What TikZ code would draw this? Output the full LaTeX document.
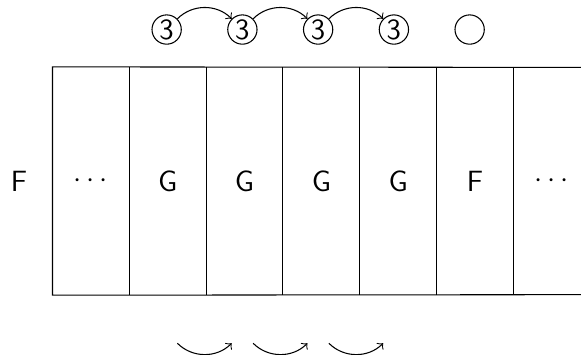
\documentclass[tikz,border=0pt]{standalone}
\usetikzlibrary{positioning}

\begin{document}
\begin{tikzpicture}[font=\sffamily\fontsize{11}{13}\selectfont, >=to,
  cell/.style={minimum width=1cm, minimum height=3cm, inner sep=0pt},
  num/.style={circle, draw, minimum size=11pt, inner sep=0pt},
  ghost/.style={circle, minimum size=11pt, inner sep=0pt}]
\useasboundingbox (-0.7,-0.79) rectangle (6.97,3.89);

% the tape
\node[cell] (c0) at (0.5,1.5) {$\cdots$};
\node[cell, right=0pt of c0] (c1) {G};
\node[cell, right=0pt of c1] (c2) {G};
\node[cell, right=0pt of c2] (c3) {G};
\node[cell, right=0pt of c3] (c4) {G};
\node[cell, right=0pt of c4] (c5) {F};
\node[cell, right=0pt of c5] (c6) {$\cdots$};
\node (lab) at (-0.45,1.5) {F};

\draw (6.97,3) -- (c0.north west) -- (c0.south west) -- (6.97,0);
\foreach \i in {0,...,5}
  \draw (c\i.north east) -- (c\i.south east);

% states above, moves below
\node[num] (t1) at (1.5,3.5) {3};
\node[num] (t2) at (2.5,3.5) {3};
\node[num] (t3) at (3.5,3.5) {3};
\node[num] (t4) at (4.5,3.5) {3};
\node[num] (t5) at (5.5,3.5) {};

\node[ghost] (b1) at (1.5,-0.5) {};
\node[ghost] (b2) at (2.5,-0.5) {};
\node[ghost] (b3) at (3.5,-0.5) {};
\node[ghost] (b4) at (4.5,-0.5) {};

\draw[->] (t1) to[bend left=45] (t2);
\draw[->] (t2) to[bend left=45] (t3);
\draw[->] (t3) to[bend left=45] (t4);

\draw[->] (b1) to[bend right=45] (b2);
\draw[->] (b2) to[bend right=45] (b3);
\draw[->] (b3) to[bend right=45] (b4);
\end{tikzpicture}
\end{document}
